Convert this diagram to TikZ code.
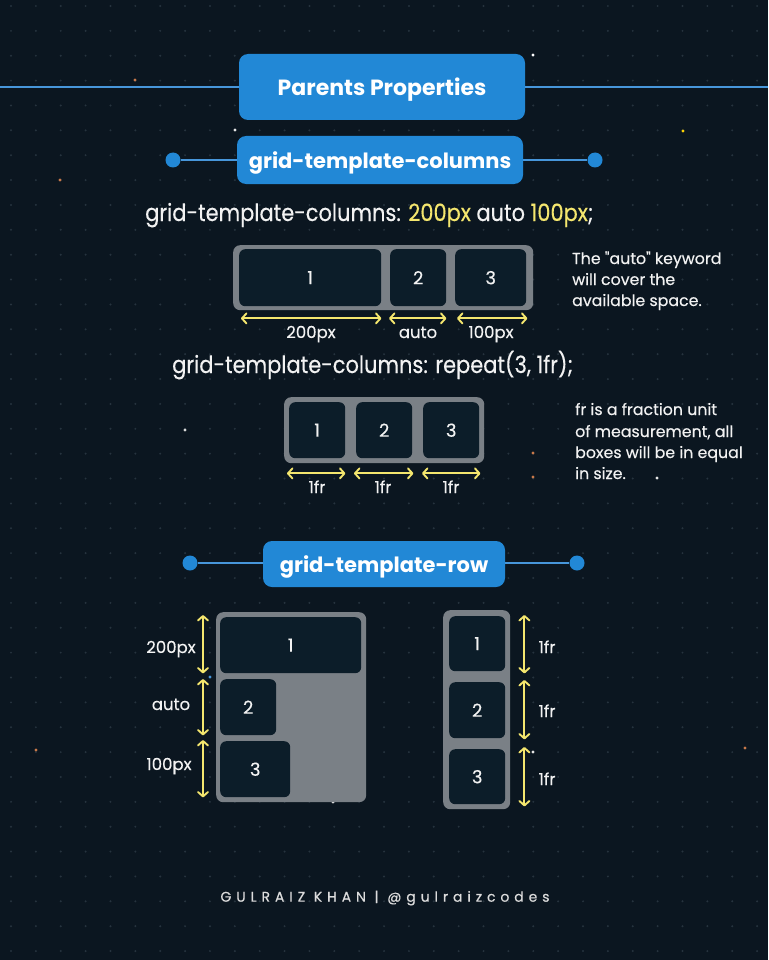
\documentclass[tikz,border=0pt]{standalone}
\usepackage{fontspec}
\setmainfont{Poppins}
\newfontfamily\medfont{Poppins}[FakeBold=0.35]
\newfontfamily\codefont{Poppins}[FakeBold=0.35, FakeStretch=0.88]
\usetikzlibrary{arrows.meta}

\definecolor{bgc}{HTML}{0B1620}
\definecolor{dotc}{HTML}{26333E}
\definecolor{hblue}{HTML}{2288D6}
\definecolor{lblue}{HTML}{4796DA}
\definecolor{holdc}{HTML}{7A8086}
\definecolor{cellc}{HTML}{0C1D29}
\definecolor{yel}{HTML}{F4E66E}
\definecolor{txt}{HTML}{F2F2F2}
\definecolor{orng}{HTML}{C8794A}
\definecolor{foot}{HTML}{DCDCDC}

\newcommand{\fsz}[1]{\fontsize{#1}{#1}\selectfont}
\newcommand{\sq}{\symbol{"22}}

\tikzset{
  hdr/.style={fill=hblue, rounded corners=9pt, text=white, inner sep=0pt,
    text height=17pt, text depth=0pt, font=\bfseries\fsz{21}},
  knob/.style={circle, fill=hblue, minimum size=15pt, inner sep=0pt},
  rail/.style={draw=lblue, line width=2.5pt},
  holder/.style={fill=holdc, rounded corners=7pt, inner sep=0pt, anchor=north west},
  cellbox/.style={fill=cellc, rounded corners=6pt, inner sep=0pt, anchor=north west,
    text=txt, font=\medfont\fsz{18}},
  dimline/.style={draw=yel, line width=1.9pt, line cap=round,
    {Straight Barb[length=4.5pt,width=10pt,round]}-{Straight Barb[length=4.5pt,width=10pt,round]}},
  lbl/.style={text=txt, inner sep=0pt, anchor=base, font=\medfont\fsz{16.5}},
  code/.style={text=txt, inner sep=0pt, anchor=base west, font=\codefont\fsz{23.8}},
  note/.style={text=txt, inner sep=0pt, anchor=base west, font=\medfont\fsz{15.8}},
  speck/.style={fill=#1},
}

\begin{document}
\begin{tikzpicture}[x=1pt, y=-1pt]
  % background and dot grid
  \fill[bgc] (0,0) rectangle (768,960);
  \useasboundingbox (0,0) rectangle (768,960);
  \foreach \i in {0,...,30}
    \foreach \j in {0,...,38}
      \fill[dotc] (11+\i*24.87, 6+\j*24.87) circle (1.1pt);

  % scattered coloured specks
  \foreach \p/\c in {{(533,55)}/white, {(683,131)}/yellow!70!orange, {(135,80)}/orng,
      {(60,180)}/orng, {(235,130)}/white!80!gray, {(185,430)}/white!70!gray,
      {(533,453)}/orng, {(533,477)}/orng, {(657,478)}/white!80!gray,
      {(36,750)}/orng, {(745,748)}/orng, {(533,752)}/white!80!gray,
      {(333,802)}/white!80!gray, {(210,677)}/lblue}
    \fill[speck=\c] \p circle (1.6pt);

  % ---------- title ----------
  \coordinate (railL) at (0,87);
  \coordinate (railR) at (768,87);
  \node[hdr, minimum width=286pt, minimum height=66pt, font=\bfseries\fsz{22}, text height=18pt]
    (title) at (382,87) {Parents Properties};
  \draw[rail] (railL) -- (title.west);
  \draw[rail] (title.east) -- (railR);

  % ---------- grid-template-columns header ----------
  \node[knob] (kcL) at (173,160) {};
  \node[knob] (kcR) at (595,160) {};
  \draw[rail] (kcL) -- (kcR);
  \node[hdr, minimum width=286pt, minimum height=48pt] (colhdr) at (380,160) {grid-template-columns};

  % ---------- 200px auto 100px ----------
  \node[code] (code1) at (145,221)
    {grid-template-columns: \textcolor{yel}{200px} auto \textcolor{yel}{100px};};

  \node[holder, minimum width=300pt, minimum height=65pt] (g1) at (233,245) {};
  \node[cellbox, minimum width=142pt, minimum height=57pt] (a1) at (239,249) {1};
  \node[cellbox, minimum width=56pt, minimum height=57pt] (a2) at (390,249) {2};
  \node[cellbox, minimum width=71pt, minimum height=57pt] (a3) at (455,249) {3};

  \draw[dimline] ([xshift=2pt,yshift=-12pt]a1.south west) -- ([yshift=-12pt]a1.south east);
  \draw[dimline] ([xshift=-1pt,yshift=-12pt]a2.south west) -- ([yshift=-12pt]a2.south east);
  \draw[dimline] ([xshift=2pt,yshift=-12pt]a3.south west) -- ([xshift=1pt,yshift=-12pt]a3.south east);
  \node[lbl] (la1) at (311,338) {200px};
  \node[lbl] (la2) at (418,338) {auto};
  \node[lbl] (la3) at (491,338) {100px};

  \node[note] (n1a) at (572,264) {The \sq auto\sq{} keyword};
  \node[note] (n1b) at (572,285) {will cover the};
  \node[note] (n1c) at (572,306) {available space.};

  % ---------- repeat(3, 1fr) ----------
  \node[code] (code2) at (172,373) {grid-template-columns: repeat(3, 1fr);};

  \node[holder, minimum width=200pt, minimum height=66pt] (g2) at (284,397) {};
  \node[cellbox, minimum width=56pt, minimum height=56pt] (b1) at (289,402) {1};
  \node[cellbox, minimum width=56pt, minimum height=56pt] (b2) at (356,402) {2};
  \node[cellbox, minimum width=56pt, minimum height=56pt] (b3) at (423,402) {3};

  \draw[dimline] ([xshift=-2pt,yshift=-15pt]b1.south west) -- ([yshift=-15pt]b1.south east);
  \draw[dimline] ([xshift=-2pt,yshift=-15pt]b2.south west) -- ([xshift=1pt,yshift=-15pt]b2.south east);
  \draw[dimline] ([xshift=-1pt,yshift=-15pt]b3.south west) -- ([xshift=1pt,yshift=-15pt]b3.south east);
  \node[lbl] (lb1) at (317,493) {1fr};
  \node[lbl] (lb2) at (383,493) {1fr};
  \node[lbl] (lb3) at (451,493) {1fr};

  \node[note] (n2a) at (575,415) {fr is a fraction unit};
  \node[note] (n2b) at (575,437) {of measurement, all};
  \node[note] (n2c) at (575,458) {boxes will be in equal};
  \node[note] (n2d) at (575,479) {in size.};

  % ---------- grid-template-row header ----------
  \node[knob] (krL) at (190,563) {};
  \node[knob] (krR) at (577,563) {};
  \draw[rail] (krL) -- (krR);
  \node[hdr, minimum width=242pt, minimum height=46pt] (rowhdr) at (384,564) {grid-template-row};

  % ---------- rows: 200px auto 100px ----------
  \node[holder, minimum width=150pt, minimum height=190pt] (g3) at (216,612) {};
  \node[cellbox, minimum width=141pt, minimum height=56pt] (r1) at (220,617) {1};
  \node[cellbox, minimum width=56pt, minimum height=56pt] (r2) at (220,679) {2};
  \node[cellbox, minimum width=70pt, minimum height=56pt] (r3) at (220,741) {3};

  \draw[dimline] ([xshift=-17pt,yshift=2pt]r1.north west) -- ([xshift=-17pt]r1.south west);
  \draw[dimline] ([xshift=-17pt]r2.north west) -- ([xshift=-17pt]r2.south west);
  \draw[dimline] ([xshift=-17pt,yshift=1pt]r3.north west) -- ([xshift=-17pt]r3.south west);
  \node[lbl] (lr1) at (171,653) {200px};
  \node[lbl] (lr2) at (171,710) {auto};
  \node[lbl] (lr3) at (169,770) {100px};

  % ---------- rows: repeat(3, 1fr) ----------
  \node[holder, minimum width=67pt, minimum height=199pt] (g4) at (443,610) {};
  \node[cellbox, minimum width=56pt, minimum height=55pt] (s1) at (449,616) {1};
  \node[cellbox, minimum width=56pt, minimum height=56pt] (s2) at (449,682) {2};
  \node[cellbox, minimum width=56pt, minimum height=55pt] (s3) at (449,749) {3};

  \draw[dimline] ([xshift=19pt,yshift=1pt]s1.north east) -- ([xshift=19pt,yshift=-2pt]s1.south east);
  \draw[dimline] ([xshift=19pt,yshift=2pt]s2.north east) -- ([xshift=19pt,yshift=-1pt]s2.south east);
  \draw[dimline] ([xshift=19pt,yshift=2pt]s3.north east) -- ([xshift=19pt,yshift=-2pt]s3.south east);
  \node[lbl] (ls1) at (547,653) {1fr};
  \node[lbl] (ls2) at (547,717) {1fr};
  \node[lbl] (ls3) at (547,785) {1fr};

  % ---------- footer ----------
  \node[text=foot, inner sep=0pt, font=\medfont\fsz{14}\addfontfeatures{LetterSpace=35}] (credit)
    at (385,898) {GULRAIZ KHAN | @gulraizcodes};
\end{tikzpicture}
\end{document}
